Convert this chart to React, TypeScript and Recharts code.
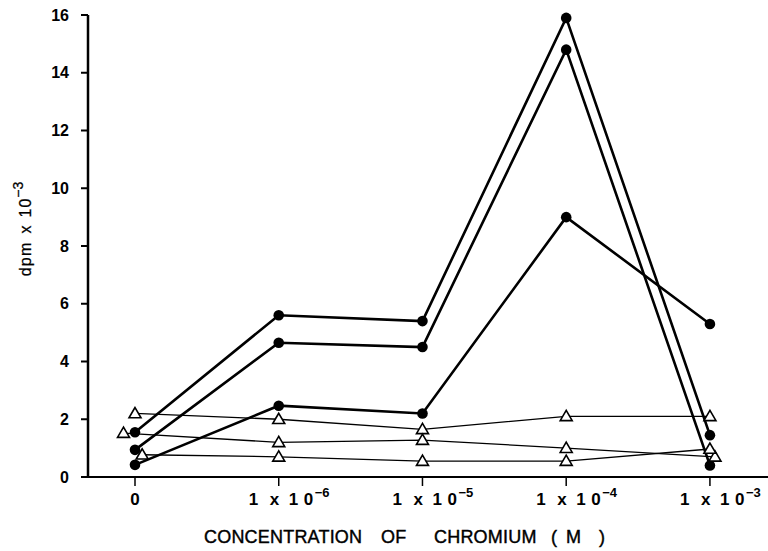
import { LineChart, Line, XAxis, YAxis, Label } from "recharts";

// chromium concentration categories (index on the x axis)
const concentrationExponents = [null, "\u22126", "\u22125", "\u22124", "\u22123"];
const yTicks = [0, 2, 4, 6, 8, 10, 12, 14, 16];

// filled circles
const circleX = [0, 1, 2, 3, 4];
const circleHigh = [1.55, 5.6, 5.4, 15.9, 1.45];
const circleMid = [0.94, 4.65, 4.5, 14.8, 0.4];
const circleLow = [0.42, 2.47, 2.2, 9.0, 5.3];

// open triangles (x slightly staggered where points overlap in the figure)
const triTopX = [0, 1, 2, 3, 4];
const triTop = [2.2, 2.0, 1.65, 2.1, 2.1];
const triMidX = [-0.08, 1, 2, 3, 4.035];
const triMid = [1.52, 1.2, 1.28, 1.0, 0.7];
const triLowX = [0.05, 1, 2, 3, 4];
const triLow = [0.77, 0.7, 0.55, 0.55, 0.97];

const xTitleWords = ["CONCENTRATION", "OF", "CHROMIUM", "(", "M", ")"];
const xTitleGaps = [0, 177, 230, 347, 362, 395];

const FONT = "'Liberation Sans', Arial, Helvetica, sans-serif";

const toRows = (xs: number[], ys: number[]) => ys.map((y, i) => ({ x: xs[i], y }));

const CircleDot = (props: any) => {
  const { cx, cy, index } = props;
  if (cx == null || cy == null) return null;
  return <circle key={index} cx={cx} cy={cy} r={5.3} fill="#000" />;
};

const TriangleDot = (props: any) => {
  const { cx, cy, index } = props;
  if (cx == null || cy == null) return null;
  const pts = `${cx},${cy - 6} ${cx - 6},${cy + 4.3} ${cx + 6},${cy + 4.3}`;
  return <polygon key={index} points={pts} fill="#fff" stroke="#000" strokeWidth={1.6} />;
};

const XTick = (props: any) => {
  const { x, y, payload } = props;
  const exp = concentrationExponents[payload.value];
  const common = { fontFamily: FONT, fontSize: 17, fontWeight: 700, fill: "#000" };
  if (!exp) {
    return (
      <text x={x} y={y + 19} textAnchor="middle" {...common}>
        0
      </text>
    );
  }
  return (
    <text y={y + 19} textAnchor="start" {...common}>
      <tspan x={x - 30}>1</tspan>
      <tspan x={x - 9}>x</tspan>
      <tspan x={x + 10}>1</tspan>
      <tspan x={x + 25}>0</tspan>
      <tspan x={x + 36} dy={-8} fontSize={13}>{exp}</tspan>
    </text>
  );
};

const YTitle = (props: any) => {
  const { viewBox } = props;
  const cx = viewBox.x - 3;
  const cy = viewBox.y + viewBox.height / 2 - 17;
  return (
    <text
      x={cx}
      y={cy}
      transform={`rotate(-90 ${cx} ${cy})`}
      textAnchor="middle"
      dominantBaseline="central"
      fontFamily={FONT}
      fontSize={16}
      fill="#000"
      stroke="#000"
      strokeWidth={0.25}
    >
      <tspan letterSpacing={1.2}>dpm</tspan>
      <tspan dx={8}>x</tspan>
      <tspan dx={8} letterSpacing={1}>10</tspan>
      <tspan dy={-7} fontSize={14}>{"\u22123"}</tspan>
    </text>
  );
};

const XTitle = (props: any) => {
  const { viewBox } = props;
  const x0 = viewBox.x + 116;
  return (
    <text
      y={viewBox.y + viewBox.height - 4}
      textAnchor="start"
      fontFamily={FONT}
      fontSize={18}
      letterSpacing={0.2}
      fill="#000"
      stroke="#000"
      strokeWidth={0.4}
    >
      {xTitleWords.map((w, i) => (
        <tspan key={w + i} x={x0 + xTitleGaps[i]}>
          {w}
        </tspan>
      ))}
    </text>
  );
};

export default function App() {
  const thick = { stroke: "#000", strokeWidth: 2.6, type: "linear" as const };
  const thin = { stroke: "#000", strokeWidth: 1.3, type: "linear" as const };
  return (
    <div style={{ position: "absolute", left: 0, top: 0, background: "#fff" }}>
      <LineChart width={768} height={551} margin={{ top: 15, right: 0, bottom: 4, left: 28 }}>
        <XAxis
          dataKey="x"
          type="number"
          domain={[-0.327, 4.404]}
          allowDataOverflow
          ticks={[0, 1, 2, 3, 4]}
          tick={<XTick />}
          tickSize={9}
          tickMargin={0}
          height={70}
          axisLine={{ stroke: "#000", strokeWidth: 2 }}
          tickLine={{ stroke: "#000", strokeWidth: 1.5 }}
        >
          <Label content={<XTitle />} />
        </XAxis>
        <YAxis
          type="number"
          domain={[0, 16]}
          ticks={yTicks}
          width={60}
          tickSize={7}
          tickMargin={12}
          tick={{ fontFamily: FONT, fontSize: 16, fontWeight: 700, fill: "#000" }}
          axisLine={{ stroke: "#000", strokeWidth: 2.5 }}
          tickLine={{ stroke: "#000", strokeWidth: 2 }}
        >
          <Label content={<YTitle />} />
        </YAxis>
        <Line data={toRows(circleX, circleHigh)} dataKey="y" {...thick} dot={<CircleDot />} isAnimationActive={false} />
        <Line data={toRows(circleX, circleMid)} dataKey="y" {...thick} dot={<CircleDot />} isAnimationActive={false} />
        <Line data={toRows(circleX, circleLow)} dataKey="y" {...thick} dot={<CircleDot />} isAnimationActive={false} />
        <Line data={toRows(triTopX, triTop)} dataKey="y" {...thin} dot={<TriangleDot />} isAnimationActive={false} />
        <Line data={toRows(triMidX, triMid)} dataKey="y" {...thin} dot={<TriangleDot />} isAnimationActive={false} />
        <Line data={toRows(triLowX, triLow)} dataKey="y" {...thin} dot={<TriangleDot />} isAnimationActive={false} />
      </LineChart>
    </div>
  );
}
